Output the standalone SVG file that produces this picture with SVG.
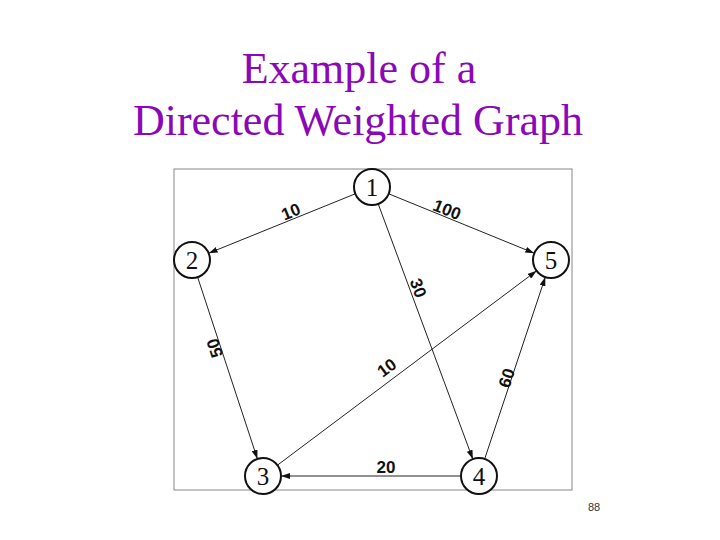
<svg xmlns="http://www.w3.org/2000/svg" width="720" height="540" viewBox="0 0 720 540">
  <defs>
    <marker id="arr" markerUnits="userSpaceOnUse" markerWidth="9" markerHeight="6" refX="9" refY="3" orient="auto">
      <path d="M0,0 L9,3 L0,6 z" fill="#111"/>
    </marker>
    <style>
      .title { font-family: "Liberation Serif", "Times New Roman", serif; font-size: 44px; fill: #8A08B8; text-anchor: middle; }
      .node circle { fill: #fff; stroke: #111; stroke-width: 2; }
      .node text { font-family: "Liberation Serif", "Times New Roman", serif; font-size: 25px; fill: #111; text-anchor: middle; dominant-baseline: central; }
      .edges line { stroke: #222; stroke-width: 1; marker-end: url(#arr); }
      .wt { font-family: "Liberation Sans", Arial, sans-serif; font-size: 17px; font-weight: bold; fill: #111; text-anchor: middle; dominant-baseline: central; }
      .pg { font-family: "Liberation Sans", Arial, sans-serif; font-size: 11px; fill: #333; text-anchor: middle; }
    </style>
  </defs>
  <rect width="720" height="540" fill="#fff"/>
  <text class="title" x="359" y="83">Example of a</text>
  <text class="title" x="358" y="135">Directed Weighted Graph</text>

  <rect x="174" y="169" width="398" height="321" fill="#fff" stroke="#888" stroke-width="1"/>

  <g id="edges" class="edges">
    <line x1="355.3" y1="193.8" x2="208.7" y2="253.2"/>
    <line x1="388.7" y1="193.8" x2="534.3" y2="253.2"/>
    <line x1="378.2" y1="203.9" x2="472.8" y2="459.1"/>
    <line x1="197.6" y1="277.1" x2="257.4" y2="458.9"/>
    <line x1="277.4" y1="465.2" x2="536.6" y2="270.8"/>
    <line x1="484.7" y1="458.9" x2="545.3" y2="277.1"/>
    <line x1="461" y1="476" x2="281" y2="476"/>
  </g>

  <g id="weights">
    <text class="wt" transform="translate(291,212) rotate(-22)">10</text>
    <text class="wt" transform="translate(447,210) rotate(22)">100</text>
    <text class="wt" transform="translate(418,288) rotate(70)">30</text>
    <text class="wt" transform="translate(215,348) rotate(-108)">50</text>
    <text class="wt" transform="translate(387,368) rotate(-37)">10</text>
    <text class="wt" transform="translate(507,378) rotate(-72)">60</text>
    <text class="wt" x="386" y="467">20</text>
  </g>

  <g id="node1" class="node"><circle cx="372" cy="187" r="18"/><text x="372" y="187">1</text></g>
  <g id="node2" class="node"><circle cx="192" cy="260" r="18"/><text x="192" y="260">2</text></g>
  <g id="node3" class="node"><circle cx="263" cy="476" r="18"/><text x="263" y="476">3</text></g>
  <g id="node4" class="node"><circle cx="479" cy="476" r="18"/><text x="479" y="476">4</text></g>
  <g id="node5" class="node"><circle cx="551" cy="260" r="18"/><text x="551" y="260">5</text></g>

  <text class="pg" x="594" y="511">88</text>
</svg>
